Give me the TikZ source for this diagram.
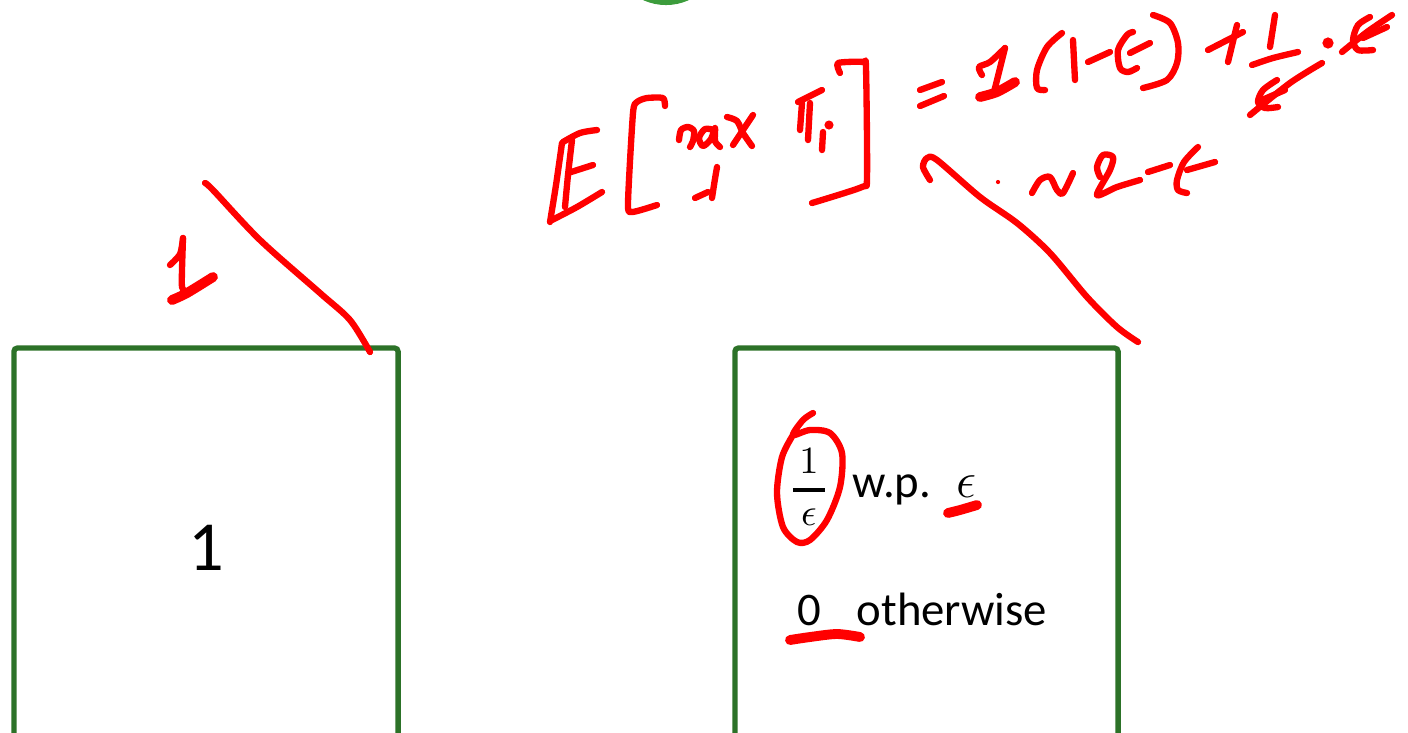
\documentclass[tikz,border=0pt]{standalone}
\usepackage{amsmath}
\usepackage{fontspec}
\setmainfont{Carlito}
\usepackage{xcolor}
\definecolor{boxgreen}{RGB}{44,114,40}
\definecolor{blobgreen}{RGB}{60,156,60}
\definecolor{pen}{RGB}{255,0,0}

\begin{document}
\begin{tikzpicture}[x=0.01cm, y=-0.01cm,
    slidebox/.style={draw=boxgreen, line width=1.5pt, rounded corners=1pt,
      outer sep=0pt, inner sep=0pt, minimum height=4.8cm},
    ink/.style={pen, line width=1.8pt, line cap=round, line join=round},
    heavy/.style={ink, line width=2.8pt},
    txt/.style={font=\fontsize{13.3}{16}\selectfont, inner sep=0pt}]

\useasboundingbox (0,0) rectangle (1408,732);
\clip (0,0) rectangle (1408,732);

% top of a green mark, cut by the page
\fill[blobgreen] (666,-50) circle (0.55cm);

% left box
\node[slidebox, minimum width=3.84cm, anchor=north] (leftbox) at (206,348) {};
\node[font=\fontsize{20}{22}\selectfont, inner sep=0pt, anchor=base] (one) at (206,570) {1};

% right box
\node[slidebox, minimum width=3.83cm, anchor=north] (rightbox) at (926.5,348) {};
\node[font=\fontsize{10.5}{12}\selectfont, inner sep=0pt] (frac) at (809,487)
  {$\genfrac{}{}{1.1pt}{0}{\mkern3mu 1\mkern3mu}{\epsilon}$};
\node[txt, anchor=base west] (wp) at (852,497) {w.p.};
\node[txt, anchor=base west] (eps) at (956,497) {$\epsilon$};
\node[txt, anchor=base west] (zero) at (797,625) {0};
\node[txt, anchor=base west] (other) at (856,625) {otherwise};

% ink: 1 over the left box
\draw[ink] plot[smooth] coordinates {(205,183) (213,190) (260,240) (320,293) (350,320) (370,352)};
\draw[ink] plot[smooth] coordinates {(170,265) (180,254) (183,238)};
\draw[ink] plot[smooth] coordinates {(183,238) (182,270) (182,287) (185,292)};
\draw[heavy] plot[smooth] coordinates {(172,300) (187,293) (213,277)};

% ink: E
\draw[ink] plot[smooth] coordinates {(562,143) (556,185) (550,222)};
\draw[ink] plot[smooth] coordinates {(572,140) (568,175) (565,207)};
\draw[ink] plot[smooth] coordinates {(563,142) (580,133) (597,130)};
\draw[ink] (568,173) -- (593,165);
\draw[ink] plot[smooth] coordinates {(552,220) (577,207) (602,192)};

% ink: [ max_i pi_i ]
\draw[ink] plot[smooth, tension=0.4] coordinates {(665,106) (663,98) (647,98) (637,102) (633,113) (628,203) (632,212) (657,205)};
\draw[ink] plot[smooth] coordinates {(679,140) (681,130) (688,127) (694,131) (693,141) (690,147)};
\draw[ink] plot[smooth] coordinates {(714,130) (705,129) (699,138) (703,146) (711,139) (715,128) (715,141) (720,147)};
\draw[ink] plot[smooth] coordinates {(727,117) (737,121) (743,133) (752,146)};
\draw[ink] (753,115) -- (733,145);
\draw[ink] plot[smooth] coordinates {(717,167) (714,185) (712,198)};
\draw[ink] (695,198) -- (708,192);
\draw[ink] (798,102) -- (822,90);
\draw[ink] (802,103) -- (800,130);
\draw[ink] (810,103) -- (808,140);
\draw[ink] (823,132) -- (822,150);
\fill[pen] (829,125) circle (1.3pt);
\draw[ink] plot[smooth, tension=0.4] coordinates {(840,73) (838,63) (863,62) (866,68) (867,177) (862,187) (812,203)};

% ink: = 1(1-e) + 1/e . e
\draw[ink] (920,90) -- (942,82);
\draw[ink] (920,106) -- (944,96);
\draw[ink] plot[smooth] coordinates {(982,75) (979,67) (990,62) (1005,48)};
\draw[ink] plot[smooth] coordinates {(1005,48) (995,88) (993,95)};
\draw[heavy] plot[smooth] coordinates {(980,97) (997,92) (1015,82)};
\draw[ink] plot[smooth] coordinates {(1062,33) (1047,47) (1037,70) (1037,88) (1045,90)};
\draw[ink] (1073,40) -- (1075,80);
\draw[ink] (1088,62) -- (1110,52);
\draw[ink] plot[smooth] coordinates {(1133,32) (1127,35) (1118,50) (1120,68) (1128,72) (1137,68)};
\draw[ink] (1130,53) -- (1150,43);
\draw[ink] plot[smooth] coordinates {(1153,15) (1170,23) (1178,43) (1177,63) (1167,80) (1143,88)};
\draw[ink] (1208,50) -- (1243,32);
\draw[ink] (1237,25) -- (1228,62);
\draw[ink] (1275,15) -- (1270,47);
\draw[ink] plot[smooth] coordinates {(1252,65) (1273,58) (1298,52)};
\draw[ink] plot[smooth] coordinates {(1277,80) (1263,90) (1258,102) (1265,108) (1278,107)};
\draw[ink] plot[smooth] coordinates {(1322,63) (1290,83) (1250,115)};
\draw[ink] (1262,100) -- (1285,90);
\fill[pen] (1328,43) circle (1.6pt);
\draw[ink] plot[smooth] coordinates {(1370,17) (1358,25) (1353,40) (1358,50) (1373,50)};
\draw[ink] plot[smooth] coordinates {(1392,15) (1367,32) (1342,52)};
\draw[ink] (1387,27) -- (1363,38);

% ink: second line and ~2-e
\draw[ink] plot[smooth] coordinates {(930,180) (923,167) (927,158) (937,160) (980,197) (1017,223) (1050,253) (1087,297) (1117,327) (1138,342)};
\fill[pen] (998,182) circle (0.6pt);
\draw[ink] plot[smooth] coordinates {(1032,193) (1040,180) (1050,177) (1057,190) (1063,193) (1073,173)};
\draw[ink] plot[smooth] coordinates {(1100,177) (1097,167) (1103,155) (1113,157) (1110,170) (1097,195) (1117,187) (1140,180)};
\draw[ink] (1148,172) -- (1170,165);
\draw[ink] plot[smooth] coordinates {(1198,147) (1184,162) (1177,180) (1178,190) (1187,193)};
\draw[ink] (1187,170) -- (1215,162);

% ink on the right box
\draw[ink] plot[smooth] coordinates {(813,413) (803,420) (793,435) (810,430) (830,433) (842,453) (840,487) (827,520) (810,540) (797,542) (783,527) (777,493) (782,457) (793,435)};
\draw[heavy] plot[smooth] coordinates {(948,513) (960,510) (977,505)};
\draw[heavy] plot[smooth] coordinates {(790,640) (810,637) (837,634) (860,637)};

\end{tikzpicture}
\end{document}
